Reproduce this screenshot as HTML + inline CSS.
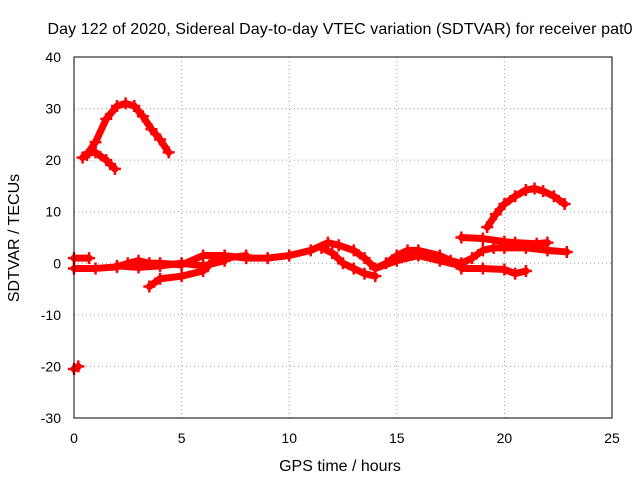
<!DOCTYPE html>
<html><head><meta charset="utf-8"><style>
body{margin:0;background:#fff}
svg{font-family:"Liberation Sans",sans-serif;font-size:14px}
</style></head><body>
<svg id="chart" width="640" height="480">
<text x="340" y="34" text-anchor="middle" font-size="16" textLength="585">Day 122 of 2020, Sidereal Day-to-day VTEC variation (SDTVAR) for receiver pat0</text>
<text x="340" y="471" text-anchor="middle" font-size="16">GPS time / hours</text>
<text transform="translate(19,238) rotate(-90)" text-anchor="middle" font-size="16">SDTVAR / TECUs</text>
<g id="grid"></g><g id="series"></g>
<rect x="74" y="57" width="538" height="361" fill="none" stroke="#000"/>
</svg>
<script>
const xTicks=[0,5,10,15,20,25];
const yTicks=[-30,-20,-10,0,10,20,30,40];
const arcTop=[[0.6,21],[1,23.5],[1.5,28],[2,30.5],[2.4,31],[2.8,30.5],[3.2,28.5],[3.6,26],[4,24],[4.4,21.5]];
const arcLow=[[0.4,20.5],[0.7,21.5],[1,21.5],[1.5,20],[1.9,18.3]];
const arcRight=[[19.2,7],[19.6,9.5],[20,11.5],[20.5,13],[21,14.2],[21.4,14.5],[21.8,14],[22.3,13],[22.8,11.5]];
const trackFive=[[18,5],[19,4.8],[20,4.2],[20.5,4],[21.5,3.8],[22,4]];
const mainTrack=[[0,-1],[1,-1],[2,-0.7],[2.5,0],[3,0.5],[3.5,0],[4,0],[5,-0.3],[6,1.5],[7,1.5],[8,1],[9,1],[10,1.5],[11,2.5],[11.8,4],[12.3,3.5],[13,2.5],[13.5,1],[14,-1],[14.5,0],[15,1.5],[15.5,2.5],[16,2.5],[17,1.5],[17.5,0.5],[18,0],[18.5,1],[19,2.5],[19.5,3],[20,3],[21,3],[22,2.5],[22.9,2.2]];
const lowTrack=[[3.5,-4.5],[4,-3],[5,-2.5],[6,-1.5],[6.5,0.5],[7,1],[8,1.5]];
const midTrack=[[2,-0.5],[3,-0.8],[4,-0.5],[5,0],[6,-0.5],[7,0.5]];
const dipTrack=[[11.5,3],[12,2],[12.5,0],[13,-1],[13.5,-2],[14,-2.5]];
const bumpTrack=[[14,-1],[15,0.5],[16,1.5],[17,0.5],[18,-0.5]];
const tailTrack=[[18,-1],[19,-1],[20,-1.2],[20.5,-2],[21,-1.5]];
const stubTrack=[[0,1],[0.7,1]];
const outlier=[[0,-20.5],[0.2,-20]];
const allSeries=[arcTop,arcLow,arcRight,trackFive,mainTrack,lowTrack,midTrack,dipTrack,bumpTrack,tailTrack,stubTrack,outlier];
const NS="http://www.w3.org/2000/svg";
const X=v=>74+(v/25)*538, Y=v=>418-((v+30)/70)*361;
const g=document.getElementById('grid'), s=document.getElementById('series');
function mk(tag,at,parent){const e=document.createElementNS(NS,tag);for(const k in at)e.setAttribute(k,at[k]);parent.appendChild(e);return e;}
xTicks.forEach(t=>{
 const l=mk('line',{x1:X(t),x2:X(t),y1:57,y2:418,stroke:'#a0a0a0','stroke-dasharray':'1,3'},g);
 
 
 const tx=mk('text',{x:X(t),y:443,'text-anchor':'middle'},g);tx.textContent=t;
 
 
});
yTicks.forEach(t=>{
 const l=mk('line',{x1:74,x2:612,y1:Y(t),y2:Y(t),stroke:'#a0a0a0','stroke-dasharray':'1,3'},g);
 
 
 const tx=mk('text',{x:61,y:Y(t)+5,'text-anchor':'end'},g);tx.textContent=t;
 
 
});
allSeries.forEach(ser=>{
 const p=mk('polyline',{points:ser.map(d=>X(d[0])+','+Y(d[1])).join(' '),fill:'none',stroke:'#f00','stroke-width':7,'stroke-linejoin':'round','stroke-linecap':'round'},s);
 
 
 ser.forEach(d=>{
  const m=mk('path',{d:`M${X(d[0])-6},${Y(d[1])}h12M${X(d[0])},${Y(d[1])-6}v12`,stroke:'#f00','stroke-width':2.5},s);
  
  
 });
});
</script>
</body></html>
